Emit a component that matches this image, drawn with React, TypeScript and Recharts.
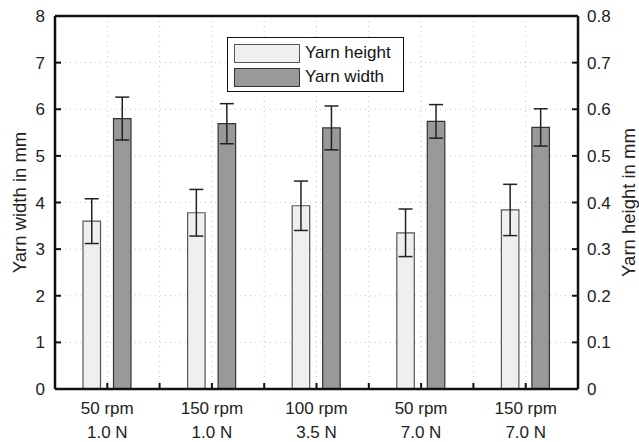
import { ComposedChart, Bar, XAxis, YAxis, CartesianGrid, ErrorBar, Legend } from "recharts";

// condition labels (two lines each)
const SPEEDS = ["50 rpm", "150 rpm", "100 rpm", "50 rpm", "150 rpm"];
const FORCES = ["1.0 N", "1.0 N", "3.5 N", "7.0 N", "7.0 N"];
const POSITIONS = [1, 3, 5, 7, 9];

// yarn height (right axis, mm)
const HEIGHT = [0.36, 0.378, 0.393, 0.335, 0.384];
const HEIGHT_ERR = [0.048, 0.05, 0.053, 0.051, 0.055];
// yarn width (left axis, mm)
const WIDTH = [5.8, 5.69, 5.6, 5.74, 5.61];
const WIDTH_ERR = [0.46, 0.43, 0.47, 0.36, 0.4];

const X_TICKS = [0, 1, 2, 3, 4, 5, 6, 7, 8, 9, 10];
const LEFT_TICKS = [0, 1, 2, 3, 4, 5, 6, 7, 8];
const RIGHT_TICKS = [0, 0.1, 0.2, 0.3, 0.4, 0.5, 0.6, 0.7, 0.8];

const data = POSITIONS.map((pos, i) => ({
  pos,
  height: HEIGHT[i],
  heightErr: HEIGHT_ERR[i],
  width: WIDTH[i],
  widthErr: WIDTH_ERR[i],
}));

const FONT = "'Liberation Sans', Arial, sans-serif";
const AXIS = "#111";
const tickStyle = { fontSize: 17, fill: "#222", fontFamily: FONT };
const titleStyle = { textAnchor: "middle", fontSize: 18.5, fill: "#222", fontFamily: FONT };

function CatTick({ x, y, payload }: any) {
  const i = POSITIONS.indexOf(payload.value);
  if (i < 0) return <g />;
  return (
    <text x={x} y={y} textAnchor="middle" fontSize={17} fill="#222" fontFamily={FONT}>
      <tspan x={x} dy={15}>{SPEEDS[i]}</tspan>
      <tspan x={x} dy={24}>{FORCES[i]}</tspan>
    </text>
  );
}

function LegendBox() {
  const row = (fill: string, stroke: string, label: string) => (
    <div style={{ display: "flex", alignItems: "center", height: 24 }}>
      <div style={{ width: 64, height: 17, background: fill, border: `1px solid ${stroke}` }} />
      <span style={{ marginLeft: 5, fontSize: 17, color: "#111", fontFamily: FONT }}>{label}</span>
    </div>
  );
  return (
    <div style={{ border: "1.5px solid #111", background: "#fff", padding: "3px 6px", boxSizing: "border-box", height: 55 }}>
      {row("#efefef", "#555", "Yarn height")}
      {row("#999999", "#333", "Yarn width")}
    </div>
  );
}

export default function App() {
  return (
    <div style={{ position: "absolute", left: 0, top: 0, background: "#fff" }}>
      <ComposedChart
        width={639}
        height={442}
        data={data}
        margin={{ top: 15, right: 11, bottom: 3, left: 10 }}
        barSize={17.5}
        barGap={13}
      >
        <CartesianGrid xAxisId="main" yAxisId="w" stroke="#c4c4c4" strokeDasharray="1 4" />
        <XAxis
          xAxisId="main"
          dataKey="pos"
          type="number"
          domain={[0, 10]}
          ticks={X_TICKS}
          height={50}
          tick={<CatTick />}
          tickSize={-6}
          tickMargin={16}
          interval={0}
          axisLine={{ stroke: AXIS, strokeWidth: 2.5 }}
          tickLine={{ stroke: AXIS, strokeWidth: 2 }}
        />
        <XAxis
          xAxisId="top"
          orientation="top"
          type="number"
          domain={[0, 10]}
          ticks={X_TICKS}
          height={1}
          tick={false}
          tickSize={-6}
          axisLine={{ stroke: AXIS, strokeWidth: 2.5 }}
          tickLine={{ stroke: AXIS, strokeWidth: 2 }}
        />
        <YAxis
          yAxisId="w"
          domain={[0, 8]}
          ticks={LEFT_TICKS}
          width={45}
          tick={tickStyle}
          tickSize={-6}
          tickMargin={16}
          interval={0}
          axisLine={{ stroke: AXIS, strokeWidth: 2.5 }}
          tickLine={{ stroke: AXIS, strokeWidth: 2 }}
          label={{ value: "Yarn width in mm", angle: -90, position: "insideLeft", offset: 9.5, style: titleStyle }}
        />
        <YAxis
          yAxisId="h"
          orientation="right"
          domain={[0, 0.8]}
          ticks={RIGHT_TICKS}
          width={50}
          tick={tickStyle}
          tickSize={-6}
          tickMargin={15}
          interval={0}
          axisLine={{ stroke: AXIS, strokeWidth: 2.5 }}
          tickLine={{ stroke: AXIS, strokeWidth: 2 }}
          label={{ value: "Yarn height in mm", angle: -90, position: "insideRight", offset: -0.5, style: titleStyle }}
        />
        <Bar
          xAxisId="main"
          yAxisId="h"
          dataKey="height"
          name="Yarn height"
          fill="#efefef"
          stroke="#555"
          strokeWidth={1.2}
          isAnimationActive={false}
        >
          <ErrorBar dataKey="heightErr" width={7} stroke="#222" strokeWidth={1.5} />
        </Bar>
        <Bar
          xAxisId="main"
          yAxisId="w"
          dataKey="width"
          name="Yarn width"
          fill="#999999"
          stroke="#333"
          strokeWidth={1.2}
          isAnimationActive={false}
        >
          <ErrorBar dataKey="widthErr" width={7} stroke="#222" strokeWidth={1.5} />
        </Bar>
        <Legend
          layout="horizontal"
          verticalAlign="middle"
          align="center"
          content={() => <LegendBox />}
          wrapperStyle={{ left: 227, top: 37, width: 177, height: 55 }}
        />
      </ComposedChart>
    </div>
  );
}
